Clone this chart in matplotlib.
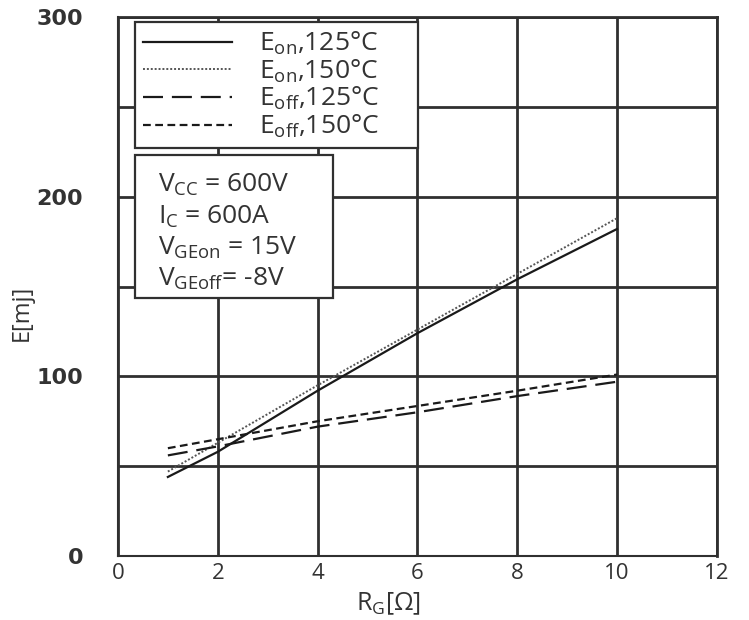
import matplotlib.pyplot as plt
from matplotlib.patches import Rectangle

# gate resistance [ohm] and switching energies [mJ]
rg = [1, 2, 4, 6, 8, 10]
eon_125 = [44, 58, 92, 124, 154, 182]
eon_150 = [47, 63, 95, 126, 157, 188]
eoff_125 = [56, 61, 72, 80, 89, 97]
eoff_150 = [60, 65, 75, 83.5, 92, 101]

x_ticks = [0, 2, 4, 6, 8, 10, 12]
y_ticks = [0, 100, 200, 300]

conditions = [r'V$_{\mathregular{CC}}$ = 600V',
              r'I$_{\mathregular{C}}$ = 600A',
              r'V$_{\mathregular{GEon}}$ = 15V',
              r'V$_{\mathregular{GEoff}}$= -8V']

plt.rcParams['font.family'] = ['Open Sans', 'DejaVu Sans']
plt.rcParams['mathtext.default'] = 'regular'

fig = plt.figure(figsize=(7.49, 6.2), dpi=100)
ax = fig.add_axes([0.1575, 0.1032, 0.7995, 0.8694])

line_col = '#1a1a1a'
ax.plot(rg, eon_125, color=line_col, lw=1.6, ls='-', label=r'E$_{\mathregular{on}}$,125°C')
ax.plot(rg, eon_150, color='#555555', lw=1.4, ls=(0, (1, 1)), label=r'E$_{\mathregular{on}}$,150°C')
ax.plot(rg, eoff_125, color=line_col, lw=1.6, ls=(0, (9, 4)), label=r'E$_{\mathregular{off}}$,125°C')
ax.plot(rg, eoff_150, color=line_col, lw=1.6, ls=(0, (3.5, 2)), label=r'E$_{\mathregular{off}}$,150°C')

ax.set_xlim(0, 12)
ax.set_ylim(0, 300)
ax.set_xticks(x_ticks)
ax.set_yticks(y_ticks)
ax.set_yticks([50, 150, 250], minor=True)
ax.grid(True, which='both', color='#303030', lw=2)
ax.tick_params(which='both', length=0)
ax.tick_params(axis='x', labelsize=16, labelcolor='#333333', pad=5)
ax.tick_params(axis='y', pad=25, labelcolor='#333333')
for lab in ax.get_yticklabels():
    lab.set_fontfamily('DejaVu Sans')
    lab.set_fontsize(16)
    lab.set_fontweight('bold')
for sp in ax.spines.values():
    sp.set_color('#303030')
    sp.set_linewidth(2)
ax.spines['left'].set_linewidth(1.5)
ax.spines['bottom'].set_linewidth(1.5)

ax.set_xlabel(r'R$_{\mathregular{G}}$[Ω]', fontsize=18, color='#333333')
ax.xaxis.set_label_coords(0.452, -0.064)
ax.set_ylabel('E[mj]', fontsize=17, color='#333333')
ax.yaxis.set_label_coords(-0.14, 0.451)

leg = ax.legend(loc='upper left', bbox_to_anchor=(0.028, 0.5, 0.4725, 0.491),
                mode='expand', fontsize=19,
                handlelength=3.4, handletextpad=1.0, labelspacing=0.02,
                borderpad=0.3, fancybox=False, framealpha=1, edgecolor='#303030',
                borderaxespad=0)
leg.get_frame().set_linewidth(1.6)
for t in leg.get_texts():
    t.set_color('#333333')

# conditions box
ax.add_patch(Rectangle((0.028, 0.479), 0.331, 0.265, transform=ax.transAxes,
                       fc='white', ec='#303030', lw=1.6, zorder=5))
ax.text(0.067, 0.712, '\n'.join(conditions), transform=ax.transAxes, fontsize=19,
        color='#333333', va='top', ha='left', linespacing=1.25, zorder=6)

fig.savefig('out.png', dpi=100)
